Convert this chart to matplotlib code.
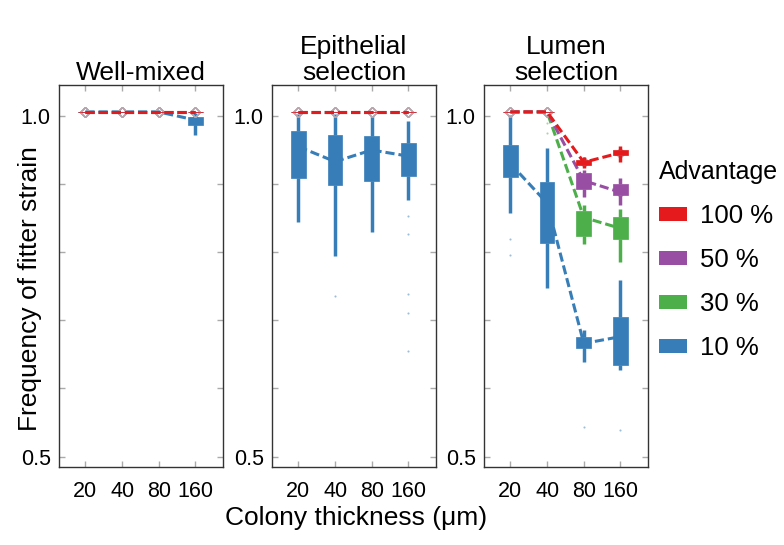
import numpy as np
import matplotlib.pyplot as plt
from matplotlib.patches import Patch

plt.rcParams['font.family'] = ['Liberation Sans', 'DejaVu Sans']

thickness = ['20', '40', '80', '160']
panel_titles = ['Well-mixed', 'Epithelial\nselection', 'Lumen\nselection']
advantage = ['100 %', '50 %', '30 %', '10 %']
colors = ['#E41A1C', '#984EA3', '#4DAF4A', '#377EB8']

# rows: 100 %, 50 %, 30 %, 10 %   columns: 20, 40, 80, 160 um
wm_med = [[1.006, 1.006, 1.006, 1.006],
          [1.006, 1.006, 1.006, 1.006],
          [1.006, 1.006, 1.006, 1.006],
          [1.006, 1.006, 1.006, 0.994]]
wm_q1 = [[1.006, 1.006, 1.006, 1.006],
         [1.006, 1.006, 1.006, 1.006],
         [1.006, 1.006, 1.006, 1.006],
         [1.006, 1.006, 1.006, 0.987]]
wm_q3 = [[1.006, 1.006, 1.006, 1.006],
         [1.006, 1.006, 1.006, 1.006],
         [1.006, 1.006, 1.006, 1.006],
         [1.006, 1.006, 1.006, 0.999]]
wm_lo = [[1.006, 1.006, 1.006, 1.006],
         [1.006, 1.006, 1.006, 1.006],
         [1.006, 1.006, 1.006, 1.006],
         [1.006, 1.006, 1.006, 0.972]]
wm_hi = [[1.006, 1.006, 1.006, 1.006],
         [1.006, 1.006, 1.006, 1.006],
         [1.006, 1.006, 1.006, 1.006],
         [1.006, 1.006, 1.006, 1.004]]
wm_fliers = [[[], [], [], []], [[], [], [], []], [[], [], [], []], [[], [], [], []]]

ep_med = [[1.006, 1.006, 1.006, 1.006],
          [1.006, 1.006, 1.006, 1.006],
          [1.006, 1.006, 1.006, 1.006],
          [0.955, 0.933, 0.950, 0.941]]
ep_q1 = [[1.006, 1.006, 1.006, 1.006],
         [1.006, 1.006, 1.006, 1.006],
         [1.006, 1.006, 1.006, 1.006],
         [0.909, 0.898, 0.904, 0.912]]
ep_q3 = [[1.006, 1.006, 1.006, 1.006],
         [1.006, 1.006, 1.006, 1.006],
         [1.006, 1.006, 1.006, 1.006],
         [0.978, 0.972, 0.970, 0.960]]
ep_lo = [[1.006, 1.006, 1.006, 1.006],
         [1.006, 1.006, 1.006, 1.006],
         [1.006, 1.006, 1.006, 1.006],
         [0.845, 0.795, 0.829, 0.877]]
ep_hi = [[1.006, 1.006, 1.006, 1.006],
         [1.006, 1.006, 1.006, 1.006],
         [1.006, 1.006, 1.006, 1.006],
         [1.003, 1.003, 1.000, 0.992]]
ep_fliers = [[[], [], [], []], [[], [], [], []], [[], [], [], []],
             [[], [0.735], [], [0.853, 0.827, 0.738, 0.710, 0.655]]]

lu_med = [[1.006, 1.006, 0.932, 0.946],
          [1.006, 1.006, 0.905, 0.888],
          [1.006, 1.006, 0.851, 0.835],
          [0.930, 0.872, 0.666, 0.676]]
lu_q1 = [[1.006, 1.006, 0.928, 0.942],
         [1.006, 1.006, 0.893, 0.884],
         [1.006, 1.006, 0.824, 0.819],
         [0.911, 0.813, 0.659, 0.635]]
lu_q3 = [[1.006, 1.006, 0.935, 0.950],
         [1.006, 1.006, 0.916, 0.900],
         [1.006, 1.006, 0.860, 0.851],
         [0.957, 0.903, 0.675, 0.705]]
lu_lo = [[1.006, 1.006, 0.923, 0.933],
         [1.006, 1.006, 0.881, 0.870],
         [1.006, 1.006, 0.812, 0.786],
         [0.857, 0.747, 0.639, 0.627]]
lu_hi = [[1.006, 1.006, 0.940, 0.956],
         [1.006, 1.006, 0.921, 0.909],
         [1.006, 1.006, 0.869, 0.863],
         [1.002, 0.953, 0.686, 0.759]]
lu_fliers = [[[], [], [], []], [[], [], [], []], [[], [0.990, 0.975], [], []],
             [[0.820, 0.796], [], [0.544], [0.539]]]

panels = [(wm_med, wm_q1, wm_q3, wm_lo, wm_hi, wm_fliers),
          (ep_med, ep_q1, ep_q3, ep_lo, ep_hi, ep_fliers),
          (lu_med, lu_q1, lu_q3, lu_lo, lu_hi, lu_fliers)]

fig = plt.figure(figsize=(7.84, 5.45), dpi=100)
lefts = [59, 272, 484]
x = np.arange(len(thickness))

for p, (med, q1, q3, lo, hi, fl) in enumerate(panels):
    ax = fig.add_axes([lefts[p] / 784, 1 - 467 / 545, 164 / 784, 382 / 545])
    # draw 10 % first so that 100 % ends up on top
    for i in reversed(range(len(advantage))):
        c = colors[i]
        z = 10 + (3 - i) * 3
        stats = [dict(med=med[i][j], q1=q1[i][j], q3=q3[i][j],
                      whislo=lo[i][j], whishi=hi[i][j], fliers=fl[i][j])
                 for j in range(len(thickness))]
        # median marker sits under the box, only shows when the box collapses
        ax.plot(x, med[i], ls='none', marker='D', ms=5, mfc='none',
                mec='#b8a4ac', mew=1, zorder=z)
        ax.bxp(stats, positions=x, widths=0.4, patch_artist=True,
               showcaps=False, manage_ticks=False,
               boxprops=dict(facecolor=c, edgecolor=c, linewidth=0.5),
               whiskerprops=dict(color=c, linewidth=2.5, solid_capstyle='butt'),
               medianprops=dict(linewidth=0),
               flierprops=dict(marker='o', markersize=1.5, markerfacecolor=c,
                               markeredgecolor='none', alpha=0.5),
               zorder=z + 1)
        ax.plot(x, med[i], color=c, lw=2.2, ls=(0, (3, 1.3)), zorder=z + 2)

    ax.set_xlim(-0.72, 3.75)
    ax.set_ylim(0.4846, 1.0455)
    ax.set_xticks(x, thickness)
    ax.set_yticks([0.5, 1.0], ['0.5', '1.0'])
    ax.set_yticks([0.6, 0.7, 0.8, 0.9], minor=True)
    ax.tick_params(which='both', direction='in', top=True, right=True,
                   color='#aaaaaa', length=4, width=1, labelsize=15.5)
    ax.tick_params(axis='x', pad=10)
    ax.tick_params(axis='y', pad=6)
    for s in ax.spines.values():
        s.set_color('#333333')
        s.set_linewidth(1)
    ax.set_title(panel_titles[p], fontsize=19, pad=0, linespacing=1.1)

fig.text(30 / 784, 0.471, 'Frequency of fitter strain', rotation=90,
         fontsize=19, ha='center', va='center')
fig.text(356 / 784, 0.05, 'Colony thickness (μm)', fontsize=19,
         ha='center', va='center')

handles = [Patch(facecolor=c, edgecolor='none') for c in colors]
fig.legend(handles, advantage, title='Advantage', loc='upper left',
           bbox_to_anchor=(659 / 784, 1 - 160 / 545), frameon=False,
           fontsize=18.5, title_fontsize=18, alignment='left',
           handlelength=1.1, handleheight=0.45, handletextpad=0.5,
           labelspacing=0.78, borderpad=0, borderaxespad=0)

fig.savefig('out.png', dpi=100)
